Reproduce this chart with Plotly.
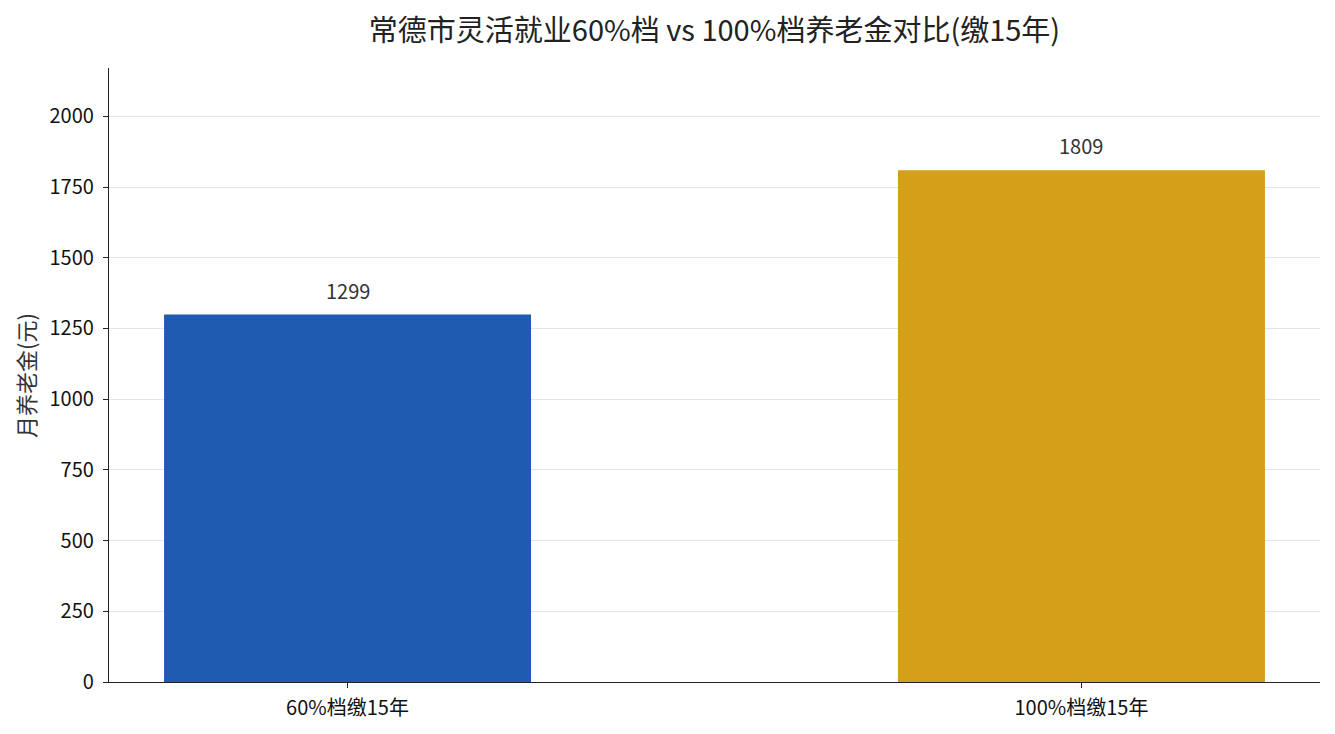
import plotly.graph_objects as go

# ── Data ──────────────────────────────────────────────────────────────────────
categories = ["60%档缴15年", "100%档缴15年"]
pension = [1299, 1809]
bar_colors = ["#1f5bb0", "#d4a01a"]
y_ticks = [0, 250, 500, 750, 1000, 1250, 1500, 1750, 2000]
y_title = "月养老金(元)"

FONT = "Noto Sans CJK SC"

fig = go.Figure()
fig.add_bar(x=[0, 1], y=pension, width=0.5, marker_color=bar_colors,
            marker_line_width=0, showlegend=False, hoverinfo="x+y")

for i, v in enumerate(pension):
    fig.add_annotation(x=i, y=v, text=str(v), showarrow=False, yanchor="bottom",
                       yshift=8, font=dict(size=20, color="#333333", family=FONT))

# y-axis title placed by hand, plotly keeps it too close to the tick labels
fig.add_annotation(text=y_title, xref="paper", yref="paper", x=-0.0694, y=0.5,
                   xanchor="center", yanchor="middle", textangle=-90, showarrow=False,
                   font=dict(size=22, color="#333333", family=FONT))

fig.update_xaxes(range=[-0.325, 1.325], tickvals=[0, 1], ticktext=categories,
                 showgrid=False, showline=True, linecolor="#222222", linewidth=1.3,
                 ticks="outside", ticklen=5, tickcolor="#222222", zeroline=False,
                 ticklabelstandoff=3,
                 tickfont=dict(size=20, color="#111111", family=FONT))
fig.update_yaxes(range=[0, 1809 * 1.2], tickvals=y_ticks,
                 showgrid=True, gridcolor="rgba(225,225,225,0.85)", gridwidth=1,
                 showline=True, linecolor="#222222", linewidth=1.3,
                 ticks="outside", ticklen=5, tickcolor="#222222", zeroline=False,
                 layer="above traces", ticklabelstandoff=5,
                 tickfont=dict(size=20, color="#111111", family=FONT))

# the page body adds an 8px offset, so the figure is 8px smaller
fig.update_layout(
    width=1327, height=726,
    margin=dict(l=101, r=15, t=60, b=52),
    plot_bgcolor="white", paper_bgcolor="white",
    title=dict(text="常德市灵活就业60%档 vs 100%档养老金对比(缴15年)",
               x=0.5, xref="paper", xanchor="center", y=0.969, yanchor="middle",
               font=dict(size=29, color="#222222", family=FONT)),
    font=dict(family=FONT),
)

fig.write_html("out.html")
